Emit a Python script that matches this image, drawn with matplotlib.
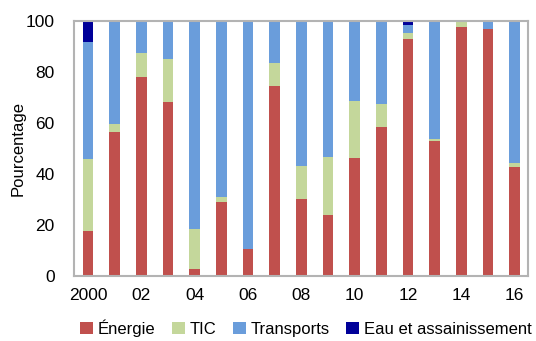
import matplotlib
matplotlib.use("Agg")
import matplotlib.pyplot as plt
import numpy as np

years = list(range(2000, 2017))
tick_labels = ["2000", "02", "04", "06", "08", "10", "12", "14", "16"]

energie = [17.3, 56.2, 77.9, 68.1, 2.4, 28.8, 10.3, 74.5, 30.1, 23.6, 46.3, 58.2, 93.1, 53.0, 97.8, 97.0, 42.5]
tic = [28.4, 3.5, 9.4, 17.0, 15.7, 2.0, 0.0, 8.9, 12.8, 23.1, 22.4, 9.1, 2.1, 0.8, 2.2, 0.0, 1.7]
transports = [45.9, 40.3, 12.7, 14.9, 81.9, 69.2, 89.7, 16.6, 57.1, 53.3, 31.3, 32.7, 3.2, 46.2, 0.0, 3.0, 55.8]
eau = [8.4, 0, 0, 0, 0, 0, 0, 0, 0, 0, 0, 0, 1.6, 0, 0, 0, 0]

series = [("Énergie", energie, "#C0504D"),
          ("TIC", tic, "#C4D79B"),
          ("Transports", transports, "#6A9DDB"),
          ("Eau et assainissement", eau, "#000099")]

plt.rcParams["font.family"] = ["Liberation Sans", "DejaVu Sans"]

fig = plt.figure(figsize=(5.36, 3.41), dpi=100)
ax = fig.add_axes([74 / 536, 1 - 275.5 / 341, 454 / 536, 254.5 / 341])

x = np.arange(len(years))
bottom = np.zeros(len(years))
for label, vals, color in series:
    vals = np.array(vals)
    ax.bar(x, vals, width=0.4, bottom=bottom, color=color, label=label,
           edgecolor="none")
    bottom += vals

ax.set_xlim(-0.53, 16.5)
ax.set_ylim(0, 100)
ax.set_yticks(range(0, 101, 20))
ax.set_xticks(x[::2])
ax.set_xticklabels(tick_labels)
ax.tick_params(length=0, labelsize=12.5, colors="black")
ax.tick_params(axis="y", pad=14)
ax.tick_params(axis="x", pad=9)
for s in ax.spines.values():
    s.set_color("#B3B3B3")
    s.set_linewidth(1.5)
ax.set_ylabel("Pourcentage", fontsize=12)
ax.yaxis.set_label_coords(-0.106, 0.5)

handles, labels = ax.get_legend_handles_labels()
fig.legend(handles, labels, loc="center", bbox_to_anchor=(306 / 536, 1 - 328 / 341),
           ncol=4, frameon=False, fontsize=12, handlelength=0.75, handleheight=0.75,
           handletextpad=0.3, columnspacing=1.0)

fig.savefig("out.png", dpi=100)
